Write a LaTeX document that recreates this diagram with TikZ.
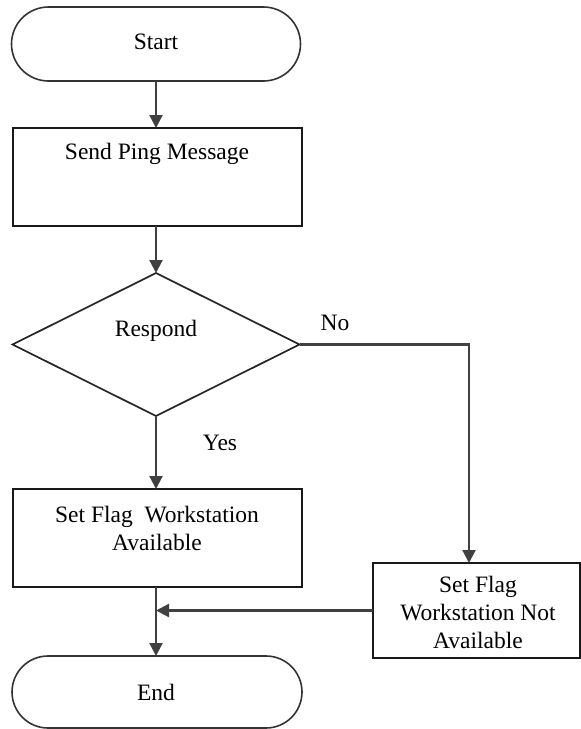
\documentclass[tikz,border=0pt]{standalone}
\usepackage{fontspec}
\setmainfont{Liberation Serif}
\newfontfamily\flowfont{Liberation Serif}
\usetikzlibrary{shapes.geometric,shapes.misc,arrows.meta}
\begin{document}
\begin{tikzpicture}[x=1pt,y=-1pt,
  every node/.style={inner sep=0pt,outer sep=0pt},
  txt/.style={font=\flowfont\fontsize{23.5}{28}\selectfont,align=center,text=black},
  box/.style={draw=black!90,line width=2pt,fill=white},
  terminal/.style={box,rounded rectangle,draw=black!80,line width=1.6pt},
  decision/.style={box,diamond,draw=black!85,line width=1.7pt},
  flow/.style={draw=black!75,line width=2.2pt,-{Triangle[width=13pt,length=13pt]}},
  link/.style={draw=black!75,line width=2.2pt}]
\useasboundingbox (0,0) rectangle (581,729);

% shapes
\node[terminal,minimum width=289,minimum height=74] (start) at (156,44) {};
\node[box,minimum width=289,minimum height=98] (ping) at (157,177) {};
\node[decision,minimum width=287,minimum height=143] (resp) at (156,344.5) {};
\node[box,minimum width=289,minimum height=98] (avail) at (157,538) {};
\node[box,minimum width=207,minimum height=95] (notavail) at (476.5,610.5) {};
\node[terminal,minimum width=290,minimum height=72] (end) at (157,692) {};

% texts
\node[txt] (tstart) at (156,42) {Start};
\node[txt] (tping) at (157,154) {Send Ping Message};
\node[txt] (tresp) at (156,331) {Respond};
\node[txt] (tavail) at (157,528) {Set Flag\ \ Workstation\\Available};
\node[txt] (tnot) at (478,612) {Set Flag\\Workstation Not\\Available};
\node[txt] (tend) at (156,692) {End};
\node[txt] (tno) at (335,323) {No};
\node[txt] (tyes) at (220,443) {Yes};

% connectors
\coordinate (merge) at (resp.south |- notavail.west);
\draw[flow] (start.south -| resp.south) -- (resp.south |- ping.north);
\draw[flow] (resp.south |- ping.south) -- (resp.north);
\draw[flow] (resp.south) -- (resp.south |- avail.north);
\draw[flow] (resp.east) -| ([xshift=-7.5]notavail.north);
\draw[link] (resp.south |- avail.south) -- (merge);
\draw[flow] (merge) -- (resp.south |- end.north);
\draw[flow] (notavail.west) -- (merge);
\end{tikzpicture}
\end{document}
